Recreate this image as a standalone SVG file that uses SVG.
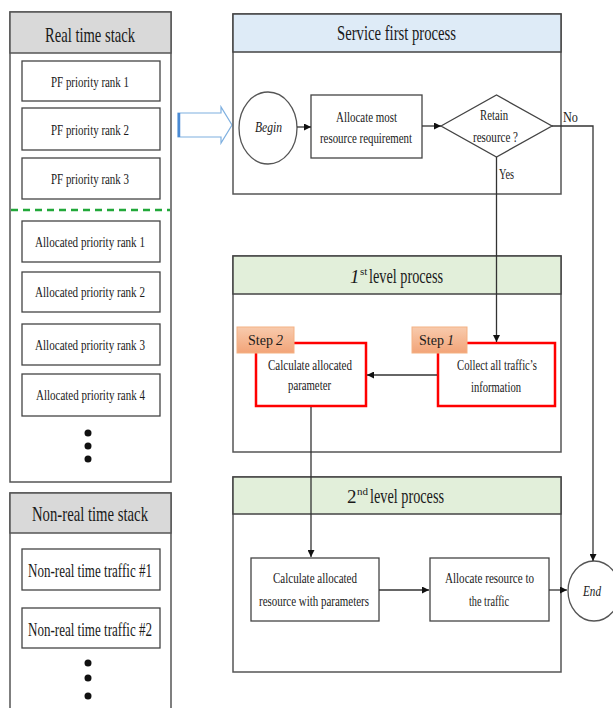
<svg xmlns="http://www.w3.org/2000/svg" width="613" height="708" viewBox="0 0 613 708">
  <defs>
    <style>
      text { font-family: "Liberation Serif", "Times New Roman", serif; fill: #1a1a1a; text-anchor: start; }
      .frame { fill: #ffffff; stroke: #555555; stroke-width: 1.5; }
      .hdr-grey { fill: #d9d9d9; stroke: #555555; stroke-width: 1.5; }
      .hdr-blue { fill: #deebf7; stroke: #444444; stroke-width: 1.5; }
      .hdr-green { fill: #e2efda; stroke: #444444; stroke-width: 1.5; }
      .item { fill: #ffffff; stroke: #444444; stroke-width: 1.3; }
      .step { fill: #ffffff; stroke: #ff0000; stroke-width: 2.5; }
      .tag { fill: url(#tagFill); stroke: #f4b183; stroke-width: 1; }
      .title { font-size: 21px; }
      .num { font-size: 19px; }
      .sup { font-size: 11px; }
      .lbl { font-size: 15px; }
      .tagtxt { font-size: 14px; }
      .big { font-size: 18px; }
      .it { font-style: italic; }
      .wire { fill: none; stroke: #333333; stroke-width: 1.3; }
      .dot { fill: #111111; }
    </style>
    <linearGradient id="tagFill" x1="0" y1="0" x2="0" y2="1">
      <stop offset="0" stop-color="#f8cbad"/>
      <stop offset="1" stop-color="#f2a478"/>
    </linearGradient>
    <marker id="arr" viewBox="0 0 10 10" refX="10" refY="5" markerWidth="7" markerHeight="7" orient="auto" markerUnits="userSpaceOnUse">
      <path d="M0,0 L10,5 L0,10 z" fill="#111111"/>
    </marker>
  </defs>

  <!-- Real time stack -->
  <g id="real-time-stack">
    <rect class="frame" x="10" y="12" width="161" height="470"/>
    <rect class="hdr-grey" x="10" y="12" width="161" height="41"/>
    <text class="title" x="45" y="42" textLength="90" lengthAdjust="spacingAndGlyphs">Real time stack</text>
  </g>
  <g id="pf-rank-1"><rect class="item" x="22" y="61" width="138" height="40"/><text class="lbl" x="51" y="87" textLength="78" lengthAdjust="spacingAndGlyphs">PF priority  rank 1</text></g>
  <g id="pf-rank-2"><rect class="item" x="22" y="108" width="138" height="42"/><text class="lbl" x="51" y="135" textLength="78" lengthAdjust="spacingAndGlyphs">PF priority  rank 2</text></g>
  <g id="pf-rank-3"><rect class="item" x="22" y="158" width="138" height="41"/><text class="lbl" x="51" y="184" textLength="78" lengthAdjust="spacingAndGlyphs">PF priority  rank 3</text></g>
  <line x1="11" y1="210" x2="170" y2="210" stroke="#22a83a" stroke-width="2.5" stroke-dasharray="7,5"/>
  <g id="alloc-rank-1"><rect class="item" x="22" y="221" width="138" height="41"/><text class="lbl" x="35" y="247" textLength="110" lengthAdjust="spacingAndGlyphs">Allocated  priority  rank 1</text></g>
  <g id="alloc-rank-2"><rect class="item" x="22" y="272" width="138" height="40"/><text class="lbl" x="35" y="297" textLength="110" lengthAdjust="spacingAndGlyphs">Allocated  priority  rank 2</text></g>
  <g id="alloc-rank-3"><rect class="item" x="22" y="324" width="138" height="41"/><text class="lbl" x="35" y="350" textLength="110" lengthAdjust="spacingAndGlyphs">Allocated  priority  rank 3</text></g>
  <g id="alloc-rank-4"><rect class="item" x="22" y="374" width="138" height="42"/><text class="lbl" x="36" y="400" textLength="109" lengthAdjust="spacingAndGlyphs">Allocated  priority  rank 4</text></g>
  <g id="rt-more">
    <circle class="dot" cx="88" cy="433" r="3.5"/>
    <circle class="dot" cx="88" cy="446" r="3.5"/>
    <circle class="dot" cx="88" cy="459" r="3.5"/>
  </g>

  <!-- Non-real time stack -->
  <g id="non-real-time-stack">
    <rect class="frame" x="10" y="493" width="161" height="230"/>
    <rect class="hdr-grey" x="10" y="493" width="161" height="40"/>
    <text class="title" x="32" y="521" textLength="116" lengthAdjust="spacingAndGlyphs">Non-real time stack</text>
  </g>
  <g id="nrt-traffic-1"><rect class="item" x="22" y="549" width="138" height="41"/><text class="big" x="28" y="577" textLength="124" lengthAdjust="spacingAndGlyphs">Non-real time traffic #1</text></g>
  <g id="nrt-traffic-2"><rect class="item" x="22" y="608" width="138" height="40"/><text class="big" x="28" y="636" textLength="124" lengthAdjust="spacingAndGlyphs">Non-real time traffic #2</text></g>
  <g id="nrt-more">
    <circle class="dot" cx="88" cy="663" r="3.5"/>
    <circle class="dot" cx="88" cy="678" r="3.5"/>
    <circle class="dot" cx="88" cy="696" r="3.5"/>
  </g>

  <!-- Hollow transfer arrow -->
  <g id="transfer-arrow">
    <path d="M178,113 L221,113 L221,107 L232,125 L221,143 L221,137 L178,137 Z" fill="#ffffff" stroke="#7fb0e0" stroke-width="1.2"/>
    <line x1="179" y1="113" x2="179" y2="137" stroke="#4a8ad4" stroke-width="2.5"/>
  </g>

  <!-- Service first process -->
  <g id="service-first-process">
    <rect class="frame" x="233" y="14" width="328" height="180" stroke="#444444"/>
    <rect class="hdr-blue" x="233" y="14" width="328" height="38"/>
    <text class="title" x="337" y="40" textLength="119" lengthAdjust="spacingAndGlyphs">Service  first process</text>
  </g>
  <g id="begin">
    <ellipse cx="268" cy="128" rx="29" ry="36" fill="#ffffff" stroke="#555555" stroke-width="1.3"/>
    <text class="lbl it" x="255" y="132" textLength="27" lengthAdjust="spacingAndGlyphs">Begin</text>
  </g>
  <g id="allocate-most">
    <rect class="item" x="311" y="95" width="111" height="63"/>
    <text class="lbl" x="336" y="122" textLength="61" lengthAdjust="spacingAndGlyphs">Allocate  most</text>
    <text class="lbl" x="320" y="143" textLength="92" lengthAdjust="spacingAndGlyphs">resource requirement</text>
  </g>
  <g id="retain-decision">
    <polygon points="441,126 496.5,95 552,126 496.5,157" fill="#ffffff" stroke="#444444" stroke-width="1.3"/>
    <text class="lbl" x="480" y="120" textLength="28" lengthAdjust="spacingAndGlyphs">Retain</text>
    <text class="lbl" x="473" y="142" textLength="45" lengthAdjust="spacingAndGlyphs">resource ?</text>
  </g>

  <!-- 1st level process -->
  <g id="first-level-process">
    <rect class="frame" x="233" y="256" width="328" height="196" stroke="#444444"/>
    <rect class="hdr-green" x="233" y="256" width="328" height="38"/>
    <text class="num it" x="350" y="283">1</text>
    <text class="sup" x="360" y="275">st</text>
    <text class="title" x="369" y="283" textLength="74" lengthAdjust="spacingAndGlyphs">level process</text>
  </g>
  <g id="step-2">
    <rect class="step" x="256" y="343" width="110" height="63"/>
    <rect class="tag" x="237" y="327" width="57" height="26"/>
    <text class="tagtxt" x="248" y="345">Step</text>
    <text class="tagtxt it" x="276" y="345">2</text>
    <text class="lbl" x="268" y="370" textLength="84" lengthAdjust="spacingAndGlyphs">Calculate  allocated</text>
    <text class="lbl" x="288" y="390" textLength="43" lengthAdjust="spacingAndGlyphs">parameter</text>
  </g>
  <g id="step-1">
    <rect class="step" x="438" y="343" width="117" height="63"/>
    <rect class="tag" x="412" y="327" width="55" height="26"/>
    <text class="tagtxt" x="419" y="345">Step</text>
    <text class="tagtxt it" x="447" y="345">1</text>
    <text class="lbl" x="457" y="370" textLength="80" lengthAdjust="spacingAndGlyphs">Collect  all  traffic’s</text>
    <text class="lbl" x="471" y="392" textLength="50" lengthAdjust="spacingAndGlyphs">information</text>
  </g>

  <!-- 2nd level process -->
  <g id="second-level-process">
    <rect class="frame" x="233" y="477" width="328" height="195" stroke="#444444"/>
    <rect class="hdr-green" x="233" y="477" width="328" height="37"/>
    <text class="num" x="347" y="503">2</text>
    <text class="sup" x="357" y="495">nd</text>
    <text class="title" x="370" y="503" textLength="74" lengthAdjust="spacingAndGlyphs">level process</text>
  </g>
  <g id="calc-resource">
    <rect class="item" x="251" y="558" width="128" height="63"/>
    <text class="lbl" x="273" y="583" textLength="84" lengthAdjust="spacingAndGlyphs">Calculate  allocated</text>
    <text class="lbl" x="259" y="606" textLength="110" lengthAdjust="spacingAndGlyphs">resource with parameters</text>
  </g>
  <g id="allocate-traffic">
    <rect class="item" x="430" y="558" width="119" height="63"/>
    <text class="lbl" x="445" y="583" textLength="89" lengthAdjust="spacingAndGlyphs">Allocate resource to</text>
    <text class="lbl" x="469" y="606" textLength="40" lengthAdjust="spacingAndGlyphs">the traffic</text>
  </g>
  <g id="end">
    <ellipse cx="594" cy="591" rx="26" ry="30" fill="#ffffff" stroke="#555555" stroke-width="1.3"/>
    <text class="lbl it" x="583" y="596" textLength="18" lengthAdjust="spacingAndGlyphs">End</text>
  </g>

  <!-- Connectors -->
  <g id="connectors">
    <line class="wire" x1="297" y1="127" x2="311" y2="127" marker-end="url(#arr)"/>
    <line class="wire" x1="422" y1="126" x2="441" y2="126" marker-end="url(#arr)"/>
    <path class="wire" d="M552,126 L593,126 L593,561" marker-end="url(#arr)"/>
    <line class="wire" x1="496.5" y1="157" x2="496.5" y2="342" marker-end="url(#arr)"/>
    <line class="wire" x1="437" y1="375" x2="367" y2="375" marker-end="url(#arr)"/>
    <line class="wire" x1="311" y1="407" x2="311" y2="557" marker-end="url(#arr)"/>
    <line class="wire" x1="379" y1="590" x2="429" y2="590" marker-end="url(#arr)"/>
    <line class="wire" x1="549" y1="590" x2="567" y2="590" marker-end="url(#arr)"/>
    <text class="lbl" x="563" y="122" textLength="15" lengthAdjust="spacingAndGlyphs">No</text>
    <text class="lbl" x="499" y="179" textLength="15" lengthAdjust="spacingAndGlyphs">Yes</text>
  </g>
</svg>
